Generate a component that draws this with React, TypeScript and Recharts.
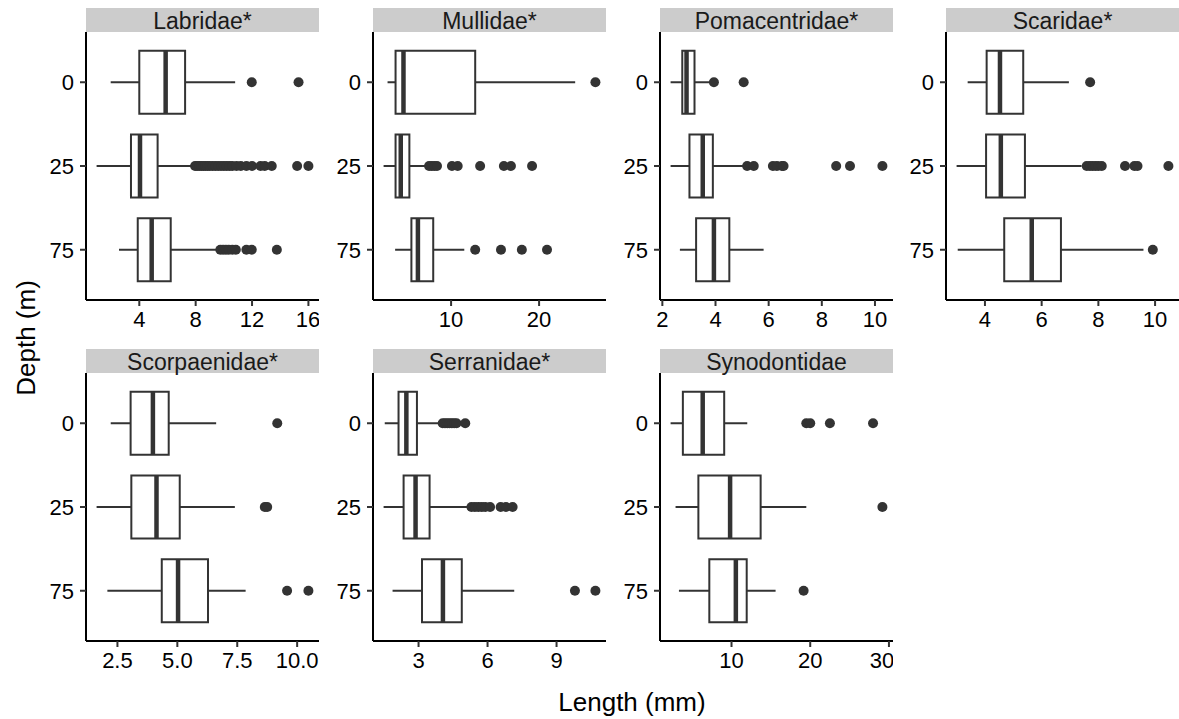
import React from 'react';
import { ComposedChart, XAxis, YAxis, Scatter, ReferenceArea, ReferenceLine } from 'recharts';

const depthLabels = ['0', '25', '75'];

// each box row: [lower whisker, Q1, median, Q3, upper whisker] for depth 0, 25, 75
const labridaeBoxes = [
  [1.97, 4.0, 5.87, 7.25, 10.8],
  [0.97, 3.41, 4.05, 5.3, 7.85],
  [2.56, 3.89, 4.88, 6.23, 9.5],
];
const labridaeOutliers = [
  [11.98, 15.3],
  [7.96, 8.1, 8.25, 8.4, 8.55, 8.7, 8.85, 9.0, 9.2, 9.4, 9.6, 9.8, 10.0, 10.2, 10.4, 10.6, 10.9, 11.2, 11.6, 12.0, 12.6, 12.9, 13.4, 15.2, 16.0],
  [9.75, 9.95, 10.15, 10.35, 10.6, 10.85, 11.6, 11.98, 13.76],
];
const labridaeTicks = [4, 8, 12, 16];

const mullidaeBoxes = [
  [2.78, 3.69, 4.59, 12.74, 24.1],
  [2.33, 3.69, 4.28, 5.26, 7.2],
  [3.64, 5.49, 6.23, 7.97, 11.5],
];
const mullidaeOutliers = [
  [26.4],
  [7.5, 7.8, 8.1, 8.4, 10.1, 10.75, 13.3, 16.0, 16.8, 19.2],
  [12.74, 15.67, 18.04, 20.9],
];
const mullidaeTicks = [10, 20];

const pomacentridaeBoxes = [
  [2.31, 2.75, 2.91, 3.21, 3.81],
  [2.31, 3.02, 3.52, 3.9, 5.05],
  [2.66, 3.27, 3.94, 4.52, 5.81],
];
const pomacentridaeOutliers = [
  [3.94, 5.06],
  [5.19, 5.44, 6.16, 6.31, 6.5, 6.56, 8.54, 9.06, 10.28],
  [],
];
const pomacentridaeTicks = [2, 4, 6, 8, 10];

const scaridaeBoxes = [
  [3.39, 4.06, 4.53, 5.35, 6.96],
  [3.0, 4.04, 4.56, 5.41, 7.41],
  [3.04, 4.68, 5.65, 6.68, 9.59],
];
const scaridaeOutliers = [
  [7.71],
  [7.59, 7.7, 7.8, 7.9, 8.0, 8.12, 8.94, 9.27, 9.38, 10.47],
  [9.92],
];
const scaridaeTicks = [4, 6, 8, 10];

const scorpaenidaeBoxes = [
  [2.22, 3.05, 3.98, 4.64, 6.62],
  [1.63, 3.08, 4.13, 5.1, 7.4],
  [2.08, 4.35, 5.03, 6.28, 7.85],
];
const scorpaenidaeOutliers = [
  [9.17],
  [8.65, 8.75],
  [9.58, 10.47],
];
const scorpaenidaeTicks = [2.5, 5.0, 7.5, 10.0];

const serranidaeBoxes = [
  [1.53, 2.13, 2.47, 2.93, 3.94],
  [1.48, 2.35, 2.87, 3.48, 5.24],
  [1.87, 3.15, 4.06, 4.88, 7.16],
];
const serranidaeOutliers = [
  [4.05, 4.15, 4.25, 4.35, 4.45, 4.55, 4.65, 5.03],
  [5.3, 5.45, 5.6, 5.75, 5.9, 6.11, 6.57, 6.8, 7.09],
  [9.8, 10.69],
];
const serranidaeTicks = [3, 6, 9];

const synodontidaeBoxes = [
  [2.26, 3.82, 6.34, 9.07, 12.0],
  [2.89, 5.79, 9.82, 13.7, 19.5],
  [3.32, 7.18, 10.55, 11.93, 15.6],
];
const synodontidaeOutliers = [
  [19.5, 20.0, 22.5, 27.98],
  [29.17],
  [19.16],
];
const synodontidaeTicks = [10, 20, 30];

const FONT = '"Liberation Sans", Arial, Helvetica, sans-serif';
const INK = '#333333';
const PLOT_W = 233;
const PLOT_H = 268;
const Y_AXIS_W = 60;
const X_AXIS_H = 40;
const STRIP_H = 24;
const colLefts = [86, 373, 660, 946];
const rowTops = [32, 373];

const panels = [
  { name: 'Labridae*', boxes: labridaeBoxes, outliers: labridaeOutliers, ticks: labridaeTicks, digits: 0 },
  { name: 'Mullidae*', boxes: mullidaeBoxes, outliers: mullidaeOutliers, ticks: mullidaeTicks, digits: 0 },
  { name: 'Pomacentridae*', boxes: pomacentridaeBoxes, outliers: pomacentridaeOutliers, ticks: pomacentridaeTicks, digits: 0 },
  { name: 'Scaridae*', boxes: scaridaeBoxes, outliers: scaridaeOutliers, ticks: scaridaeTicks, digits: 0 },
  { name: 'Scorpaenidae*', boxes: scorpaenidaeBoxes, outliers: scorpaenidaeOutliers, ticks: scorpaenidaeTicks, digits: 1 },
  { name: 'Serranidae*', boxes: serranidaeBoxes, outliers: serranidaeOutliers, ticks: serranidaeTicks, digits: 0 },
  { name: 'Synodontidae', boxes: synodontidaeBoxes, outliers: synodontidaeOutliers, ticks: synodontidaeTicks, digits: 0 },
];

const Dot = (props: any) => <circle cx={props.cx} cy={props.cy} r={5} fill={INK} />;

function Panel({ name, boxes, outliers, ticks, digits, left, top }: any) {
  const values = boxes.flat().concat(outliers.flat());
  const lo = Math.min(...values);
  const hi = Math.max(...values);
  const pad = (hi - lo) * 0.05;
  const points = outliers.flatMap((row: number[], i: number) => row.map((v) => ({ x: v, y: i })));

  const marks = boxes.flatMap(([wl, q1, med, q3, wh]: number[], i: number) => [
    <ReferenceLine key={`wl${i}`} segment={[{ x: wl, y: i }, { x: q1, y: i }]} stroke={INK} strokeWidth={2} />,
    <ReferenceLine key={`wh${i}`} segment={[{ x: q3, y: i }, { x: wh, y: i }]} stroke={INK} strokeWidth={2} />,
    <ReferenceArea key={`b${i}`} x1={q1} x2={q3} y1={i - 0.375} y2={i + 0.375} fill="none" stroke={INK} strokeWidth={2} />,
    <ReferenceLine key={`m${i}`} segment={[{ x: med, y: i - 0.375 }, { x: med, y: i + 0.375 }]} stroke={INK} strokeWidth={4.5} />,
  ]);

  return (
    <>
      <div
        style={{
          position: 'absolute', left, top: top - STRIP_H, width: PLOT_W, height: STRIP_H,
          background: '#cccccc', color: '#1a1a1a', fontSize: 23, lineHeight: `${STRIP_H + 2}px`, textAlign: 'center',
        }}
      >
        {name}
      </div>
      <div style={{ position: 'absolute', left: left - Y_AXIS_W, top }}>
        <ComposedChart width={Y_AXIS_W + PLOT_W} height={PLOT_H + X_AXIS_H} margin={{ top: 0, right: 0, bottom: 0, left: 0 }}>
          <XAxis
            type="number"
            dataKey="x"
            domain={[lo - pad, hi + pad]}
            allowDataOverflow
            ticks={ticks}
            tickFormatter={(v: number) => v.toFixed(digits)}
            height={X_AXIS_H}
            tickSize={6}
            tickMargin={5}
            tick={{ fill: '#000', fontSize: 22 }}
            tickLine={{ stroke: INK, strokeWidth: 2 }}
            axisLine={{ stroke: '#000', strokeWidth: 2 }}
          />
          <YAxis
            type="number"
            dataKey="y"
            domain={[-0.6, 2.6]}
            reversed
            allowDataOverflow
            ticks={[0, 1, 2]}
            tickFormatter={(v: number) => depthLabels[v]}
            width={Y_AXIS_W}
            tickSize={6}
            tickMargin={6}
            tick={{ fill: '#000', fontSize: 22 }}
            tickLine={{ stroke: INK, strokeWidth: 2 }}
            axisLine={{ stroke: '#000', strokeWidth: 2 }}
          />
          {marks}
          <Scatter data={points} shape={Dot} isAnimationActive={false} />
        </ComposedChart>
      </div>
    </>
  );
}

export default function App() {
  return (
    <div style={{ position: 'absolute', left: 0, top: 0, width: 1179, height: 719, background: '#fff', fontFamily: FONT, overflow: 'hidden' }}>
      {panels.map((p, i) => (
        <Panel key={p.name} {...p} left={colLefts[i % 4]} top={rowTops[Math.floor(i / 4)]} />
      ))}
      <svg width={1179} height={719} style={{ position: 'absolute', left: 0, top: 0, pointerEvents: 'none' }}>
        <text x={35} y={338} transform="rotate(-90 35 338)" textAnchor="middle" fontSize={26} fill="#000">
          Depth (m)
        </text>
        <text x={632} y={711} textAnchor="middle" fontSize={26} fill="#000">
          Length (mm)
        </text>
      </svg>
    </div>
  );
}
